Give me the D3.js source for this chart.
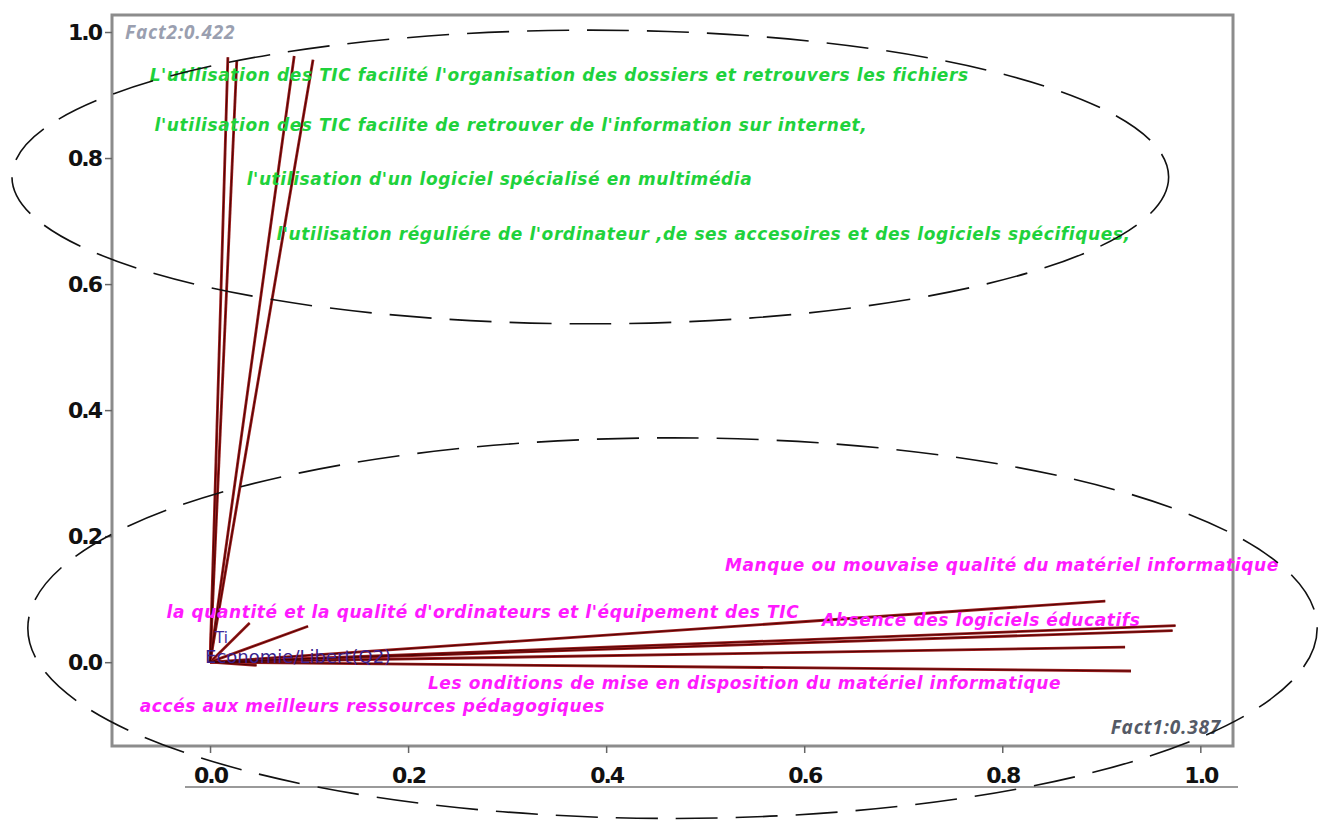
<!DOCTYPE html>
<html>
<head>
<meta charset="utf-8">
<script src="https://cdn.jsdelivr.net/npm/d3@7"></script>
<style>
  body { margin: 0; background: #fff; }
  svg { display: block; }
</style>
</head>
<body>
<div id="chart"></div>
<script>
// loadings of each variable on Fact1 / Fact2
const vecFact1 = [0.018, 0.027, 0.085, 0.104, 0.904, 0.975, 0.972, 0.924, 0.930, 0.040, 0.099, 0.047];
const vecFact2 = [0.960, 0.954, 0.962, 0.956, 0.097, 0.058, 0.050, 0.024, -0.014, 0.062, 0.057, -0.005];

// variable labels and their anchor (in factor units)
const labels = [
  "L'utilisation des TIC facilité l'organisation des dossiers et retrouvers les fichiers",
  "l'utilisation des TIC facilite de retrouver de l'information sur internet,",
  "l'utilisation d'un logiciel spécialisé en multimédia",
  "l'utilisation réguliére de l'ordinateur ,de ses accesoires et des logiciels spécifiques,",
  "Manque ou mouvaise qualité du matériel informatique",
  "la quantité et la qualité d'ordinateurs et l'équipement des TIC",
  "Absence des logiciels éducatifs",
  "Les onditions de mise en disposition du matériel informatique",
  "accés aux meilleurs ressources pédagogiques"
];
const labelFact1 = [-0.061, -0.056, 0.037, 0.067, 0.520, -0.044, 0.618, 0.220, -0.071];
const labelFact2 = [0.922, 0.843, 0.757, 0.670, 0.144, 0.070, 0.057, -0.043, -0.079];
const labelGroup = ["usage", "usage", "usage", "usage", "obstacle", "obstacle", "obstacle", "obstacle", "obstacle"];

// groups circled by hand
const ellipseCx = [0.384, 0.467];
const ellipseCy = [0.770, 0.054];
const ellipseRx = [0.584, 0.651];
const ellipseRy = [0.233, 0.302];

const ticks = [0, 0.2, 0.4, 0.6, 0.8, 1.0];
const axisNames = ["Fact1:0.387", "Fact2:0.422"];

const w = 1328;
const h = 823;
const padL = 112, padR = 1233, padT = 15, padB = 746;

const xScale = d3.scaleLinear().domain([-0.099, 1.033]).range([padL, padR]);
const yScale = d3.scaleLinear().domain([-0.133, 1.027]).range([padB, padT]);

const svg = d3.select("#chart")
  .append("svg")
  .attr("width", w)
  .attr("height", h)
  .style("background", "white");

// frame
svg.append("rect")
  .attr("x", padL).attr("y", padT)
  .attr("width", padR - padL).attr("height", padB - padT)
  .attr("fill", "white")
  .attr("stroke", "#8c8c8c")
  .attr("stroke-width", 3);

// grey base line under x labels
svg.append("line")
  .attr("x1", 185).attr("x2", 1238)
  .attr("y1", 787).attr("y2", 787)
  .attr("stroke", "#9a9a9a").attr("stroke-width", 2);

const fmt = d3.format(".1f");

const xAxis = d3.axisBottom(xScale).tickValues(ticks).tickFormat(fmt).tickSize(7).tickPadding(14);
const yAxis = d3.axisLeft(yScale).tickValues(ticks).tickFormat(fmt).tickSize(7).tickPadding(4);

const gx = svg.append("g")
  .attr("transform", "translate(0," + padB + ")")
  .call(xAxis)
  .attr("id", "x-axis");
const gy = svg.append("g")
  .attr("transform", "translate(" + padL + ",0)")
  .call(yAxis)
  .attr("id", "y-axis");

[gx, gy].forEach(g => {
  g.select(".domain").remove();
  g.selectAll(".tick line").attr("stroke", "#666").attr("stroke-width", 1.5);
  g.selectAll(".tick text")
    .attr("fill", "#111")
    .style("font-family", "DejaVu Sans")
    .style("font-weight", "bold")
    .style("font-size", "22px")
    .style("letter-spacing", "-2px");
});

// vectors
svg.selectAll("line.vec")
  .data(vecFact1)
  .enter()
  .append("line")
  .attr("class", "vec")
  .attr("x1", xScale(0))
  .attr("y1", yScale(0))
  .attr("x2", d => xScale(d))
  .attr("y2", (d, i) => yScale(vecFact2[i]))
  .attr("stroke", "#991c1c")
  .attr("stroke-width", 2.8);
svg.selectAll("line.vecc")
  .data(vecFact1)
  .enter()
  .append("line")
  .attr("class", "vecc")
  .attr("x1", xScale(0))
  .attr("y1", yScale(0))
  .attr("x2", d => xScale(d))
  .attr("y2", (d, i) => yScale(vecFact2[i]))
  .attr("stroke", "#4a0000")
  .attr("stroke-width", 0.9);

// labels sitting on the origin
svg.append("text")
  .attr("x", xScale(0.005)).attr("y", yScale(0.03))
  .attr("fill", "#3f2a9c")
  .style("font-family", "DejaVu Sans")
  .style("font-size", "15px")
  .text("Ti");
svg.append("text")
  .attr("x", xScale(-0.005)).attr("y", yScale(-0.002))
  .attr("fill", "#3a1f8e")
  .style("font-family", "DejaVu Sans")
  .style("font-size", "18px")
  .text("Economie/Libert(Q2)");

// variable labels
svg.selectAll("text.lab")
  .data(labels)
  .enter()
  .append("text")
  .attr("class", "lab")
  .attr("x", (d, i) => xScale(labelFact1[i]))
  .attr("y", (d, i) => yScale(labelFact2[i]))
  .attr("fill", (d, i) => labelGroup[i] === "usage" ? "#1fd23c" : "#ff1aff")
  .style("font-family", "DejaVu Sans")
  .style("font-weight", "bold")
  .style("font-style", "italic")
  .style("font-size", "17px")
  .style("letter-spacing", "0.6px")
  .text(d => d);

// axis names
svg.append("text")
  .attr("x", padR - 12).attr("y", padB - 12)
  .attr("text-anchor", "end")
  .attr("fill", "#555a66")
  .style("font-family", "Open Sans")
  .style("font-weight", "bold")
  .style("font-style", "italic")
  .style("font-size", "19px")
  .style("letter-spacing", "0.8px")
  .text(axisNames[0]);
svg.append("text")
  .attr("x", padL + 13).attr("y", padT + 24)
  .attr("fill", "#9a9fb0")
  .style("font-family", "Open Sans")
  .style("font-weight", "bold")
  .style("font-style", "italic")
  .style("font-size", "19px")
  .style("letter-spacing", "0.8px")
  .text(axisNames[1]);

// dashed ellipses
svg.selectAll("ellipse")
  .data(ellipseCx)
  .enter()
  .append("ellipse")
  .attr("cx", d => xScale(d))
  .attr("cy", (d, i) => yScale(ellipseCy[i]))
  .attr("rx", (d, i) => xScale(ellipseRx[i]) - xScale(0))
  .attr("ry", (d, i) => yScale(0) - yScale(ellipseRy[i]))
  .attr("fill", "none")
  .attr("stroke", "#111")
  .attr("stroke-width", 1.6)
  .attr("stroke-dasharray", "42 18");
</script>
</body>
</html>
